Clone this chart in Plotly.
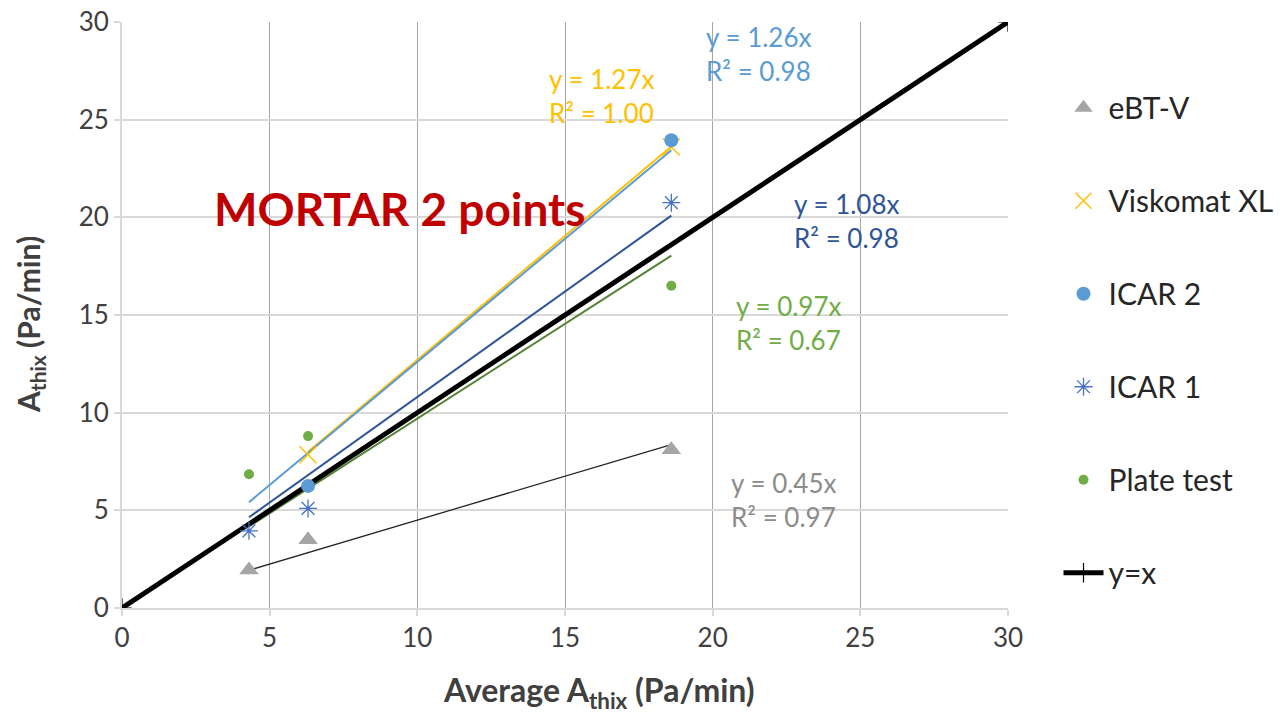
import plotly.graph_objects as go

# Average thixotropy (x) shared by all methods
avg_athix = [4.3, 6.3, 18.6]

# Measured A_thix per method (Pa/min)
ebtv_y = [1.95, 3.5, 8.1]
visk_x = [6.3, 18.6]
visk_y = [7.85, 23.6]
icar2_x = [6.3, 18.6]
icar2_y = [6.25, 23.95]
icar1_y = [3.95, 5.1, 20.75]
plate_y = [6.85, 8.8, 16.5]

# Linear fits through the origin: slope, R², x-extent of the fitted line
fits = {
    "eBT-V": (0.45, "0.97", [4.3, 18.6]),
    "Viskomat XL": (1.27, "1.00", [6.3, 18.6]),
    "ICAR 2": (1.26, "0.98", [4.3, 18.6]),
    "ICAR 1": (1.08, "0.98", [4.3, 18.6]),
    "Plate test": (0.97, "0.67", [4.3, 18.6]),
}

identity_x = [0, 30]

FONT = "Lato"
fig = go.Figure()

trend_style = {
    "eBT-V": ("#262626", 1.3),
    "Viskomat XL": ("#FFC000", 2),
    "ICAR 2": ("#5B9BD5", 2),
    "ICAR 1": ("#2F5597", 2),
    "Plate test": ("#548235", 2),
}
for name, (slope, r2, xr) in fits.items():
    color, w = trend_style[name]
    fig.add_trace(go.Scatter(
        x=xr, y=[slope * v for v in xr], mode="lines",
        line=dict(color=color, width=w), showlegend=False, hoverinfo="skip"))

# Identity line sits above the fits and beneath the measured points
fig.add_trace(go.Scatter(
    x=identity_x, y=identity_x, mode="lines+markers", name="y=x",
    legendgroup="f", legendrank=6,
    line=dict(color="black", width=5),
    marker=dict(symbol="cross-thin-open", size=14, line=dict(color="#5B9BD5", width=1.2))))

fig.add_trace(go.Scatter(
    x=avg_athix, y=ebtv_y, mode="markers", name="eBT-V",
    legendgroup="a", legendrank=1,
    marker=dict(symbol="triangle-up", size=17, color="#A5A5A5")))
fig.add_trace(go.Scatter(
    x=visk_x, y=visk_y, mode="markers", name="Viskomat XL",
    legendgroup="b", legendrank=2,
    marker=dict(symbol="x-thin-open", size=17, color="#FFC000",
                line=dict(color="#FFC000", width=1.5))))
fig.add_trace(go.Scatter(
    x=icar2_x, y=icar2_y, mode="markers", name="ICAR 2",
    legendgroup="c", legendrank=3,
    marker=dict(symbol="circle", size=14, color="#5B9BD5")))
fig.add_trace(go.Scatter(
    x=avg_athix, y=icar1_y, mode="markers", name="ICAR 1",
    legendgroup="d", legendrank=4,
    marker=dict(symbol="asterisk-open", size=15, color="#4472C4",
                line=dict(color="#4472C4", width=1.3))))
fig.add_trace(go.Scatter(
    x=avg_athix, y=plate_y, mode="markers", name="Plate test",
    legendgroup="e", legendrank=5,
    marker=dict(symbol="circle", size=10, color="#70AD47")))

labels = [
    ("Viskomat XL", "#FFC000", 14.39, 26.19),
    ("ICAR 2", "#5B9BD5", 19.71, 28.34),
    ("ICAR 1", "#2F5597", 22.69, 19.79),
    ("Plate test", "#70AD47", 20.72, 14.57),
    ("eBT-V", "#8C8C8C", 20.55, 5.53),
]
for name, color, ax, ay in labels:
    slope, r2, _ = fits[name]
    fig.add_annotation(
        x=ax, y=ay, xref="x", yref="y", xanchor="left", yanchor="middle",
        text=f"y = {slope:.2f}x<br>R² = {r2}", showarrow=False, align="left",
        font=dict(family=FONT, size=26, color=color))

fig.add_annotation(
    x=3.05, y=20.45, xref="x", yref="y", xanchor="left", yanchor="middle",
    text="<b>MORTAR 2 points</b>", showarrow=False,
    font=dict(family=FONT, size=46, color="#C00000"))

# Axis titles, placed in pixel-aligned paper positions
PLOT_L, PLOT_W, PLOT_B, PLOT_H = 122, 886, 110, 586
fig.add_annotation(
    x=(599 - PLOT_L) / PLOT_W, y=-(692 - 608) / PLOT_H, xref="paper", yref="paper",
    xanchor="center", yanchor="middle", showarrow=False,
    text="<b>Average A<sub>thix</sub> (Pa/min)</b>",
    font=dict(family=FONT, size=32, color="#404040"))
fig.add_annotation(
    x=-(PLOT_L - 30) / PLOT_W, y=(608 - 325) / PLOT_H, xref="paper", yref="paper",
    xanchor="center", yanchor="middle", showarrow=False, textangle=-90,
    text="<b>A<sub>thix</sub> (Pa/min)</b>",
    font=dict(family=FONT, size=30, color="#404040"))

fig.update_layout(
    width=1280, height=718,
    margin=dict(l=PLOT_L, r=272, t=22, b=PLOT_B, autoexpand=False),
    paper_bgcolor="white", plot_bgcolor="white",
    font=dict(family=FONT, color="#595959"),
    legend=dict(x=1.057, y=0.898, xanchor="left", yanchor="top",
                font=dict(family=FONT, size=30, color="#262626"),
                tracegroupgap=51, itemwidth=40,
                bgcolor="rgba(0,0,0,0)"),
)
fig.update_xaxes(
    range=[0, 30], dtick=5, tick0=0,
    showgrid=True, gridcolor="#A6A6A6", gridwidth=1,
    showline=True, linecolor="#D9D9D9", linewidth=2,
    ticks="outside", ticklen=6, tickcolor="#D9D9D9", tickwidth=2,
    zeroline=False,
    tickfont=dict(family=FONT, size=26, color="#404040"),
)
fig.update_yaxes(
    range=[0, 30], dtick=5, tick0=0,
    showgrid=True, gridcolor="#D9D9D9", gridwidth=2,
    showline=True, linecolor="#D9D9D9", linewidth=2,
    ticks="outside", ticklen=6, tickcolor="#D9D9D9", tickwidth=2,
    zeroline=False,
    tickfont=dict(family=FONT, size=26, color="#404040"),
)

fig.write_html("out.html")
